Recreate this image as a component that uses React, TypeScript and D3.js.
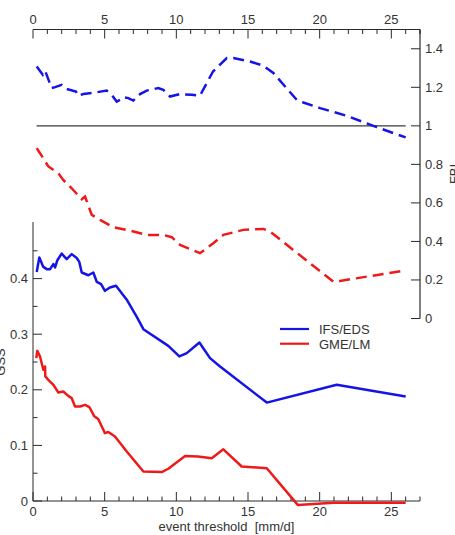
import React from "react";
import * as d3 from "d3";

// Event thresholds (mm/d) and scores for each model chain
const ifsFbiT = [0.26, 0.68, 0.84, 1.3, 1.54, 2.0, 2.35, 3.0, 3.16, 3.51, 4.1, 5.14, 5.49, 5.84, 6.07, 6.3, 6.65, 7.0, 7.47, 7.93, 8.74, 9.09, 9.56, 10.26, 11.07, 11.65, 12.56, 13.52, 13.98, 15.14, 16.07, 16.77, 18.4, 18.86, 20.03, 21.89, 23.98, 26.0];
const ifsFbiV = [1.308, 1.265, 1.287, 1.196, 1.201, 1.213, 1.191, 1.178, 1.156, 1.165, 1.17, 1.183, 1.161, 1.126, 1.135, 1.149, 1.144, 1.131, 1.165, 1.183, 1.196, 1.187, 1.152, 1.165, 1.161, 1.157, 1.282, 1.352, 1.352, 1.334, 1.312, 1.274, 1.135, 1.121, 1.092, 1.052, 0.993, 0.94];

const gmeFbiT = [0.26, 0.49, 1.07, 1.77, 2.11, 2.7, 3.4, 3.63, 4.1, 4.68, 5.6, 6.77, 7.93, 9.09, 9.68, 10.26, 11.65, 12.58, 13.28, 14.68, 16.07, 16.54, 20.96, 21.42, 26.0];
const gmeFbiV = [0.884, 0.858, 0.789, 0.754, 0.719, 0.676, 0.619, 0.633, 0.538, 0.512, 0.474, 0.456, 0.434, 0.434, 0.422, 0.382, 0.339, 0.391, 0.434, 0.46, 0.465, 0.451, 0.191, 0.195, 0.25];

const ifsGssT = [0.26, 0.44, 0.72, 0.96, 1.19, 1.42, 1.54, 1.7, 2.0, 2.35, 2.7, 3.05, 3.23, 3.4, 3.86, 4.21, 4.45, 4.75, 5.02, 5.37, 5.79, 6.54, 7.24, 7.7, 9.44, 10.21, 10.73, 11.61, 12.35, 13.05, 16.31, 21.19, 26.0];
const ifsGssV = [0.412, 0.438, 0.421, 0.417, 0.417, 0.426, 0.42, 0.433, 0.445, 0.435, 0.444, 0.437, 0.43, 0.411, 0.406, 0.411, 0.394, 0.39, 0.378, 0.384, 0.387, 0.362, 0.331, 0.309, 0.279, 0.26, 0.266, 0.285, 0.257, 0.242, 0.177, 0.209, 0.188];

const gmeGssT = [0.23, 0.3, 0.49, 0.72, 0.84, 0.86, 1.07, 1.42, 1.77, 2.11, 2.46, 2.7, 2.93, 3.28, 3.63, 3.93, 4.26, 4.56, 5.02, 5.25, 5.72, 6.54, 7.7, 8.98, 9.44, 10.61, 11.51, 12.47, 13.28, 14.56, 16.31, 18.47, 20.96, 26.0];
const gmeGssV = [0.257, 0.27, 0.26, 0.236, 0.242, 0.224, 0.218, 0.209, 0.195, 0.197, 0.189, 0.185, 0.17, 0.17, 0.173, 0.169, 0.153, 0.147, 0.122, 0.124, 0.116, 0.089, 0.053, 0.052, 0.058, 0.081, 0.08, 0.077, 0.093, 0.062, 0.059, -0.007, -0.003, -0.003];

const xMajorTicks = [0, 5, 10, 15, 20, 25];
const xMinorTicks = d3.range(0, 28);
const fbiTicks = [0, 0.2, 0.4, 0.6, 0.8, 1, 1.2, 1.4];
const gssMajorTicks = [0, 0.1, 0.2, 0.3, 0.4];
const gssMinorTicks = [0.05, 0.15, 0.25, 0.35, 0.45];

const seriesNames = ["IFS/EDS", "GME/LM"];
const seriesColors = ["#1414e6", "#ee1a1a"];

const W = 455;
const H = 535;
const FONT = "'Liberation Sans', Arial, sans-serif";
const AXIS = "#2a2a2a";
const TEXT = "#333";

export default function App() {
  const x = d3.scaleLinear().domain([0, 27]).range([33, 420]);
  const yF = d3.scaleLinear().domain([0, 1.5]).range([318.5, 29.5]);
  const yG = d3.scaleLinear().domain([0, 0.5]).range([501, 223]);

  const lineF = d3.line<[number, number]>().x((d) => x(d[0])).y((d) => yF(d[1]));
  const lineG = d3.line<[number, number]>().x((d) => x(d[0])).y((d) => yG(d[1]));
  const zip = (t: number[], v: number[]) => t.map((d, i) => [d, v[i]] as [number, number]);

  const topY = yF(1.5);
  const botY = yG(0);
  const leftX = x(0);
  const rightX = x(27);

  const fmt = (v: number) => (v === 0 ? "0" : v === 1 ? "1" : String(v));

  return (
    <div style={{ position: "fixed", left: 0, top: 0, width: W, height: H, background: "#fff" }}>
      <svg width={W} height={H} style={{ display: "block", overflow: "hidden" }} fontFamily={FONT}>
        {/* top axis (threshold) */}
        <line x1={leftX} x2={rightX} y1={topY} y2={topY} stroke={AXIS} strokeWidth={1} />
        {xMinorTicks.map((t) => (
          <line key={"tm" + t} x1={x(t)} x2={x(t)} y1={topY} y2={topY + (t % 5 === 0 ? 9 : 4.5)} stroke={AXIS} strokeWidth={1} />
        ))}
        {xMajorTicks.map((t) => (
          <text key={"tl" + t} x={x(t)} y={topY - 6} textAnchor="middle" fontSize={13} fill={TEXT}>
            {t}
          </text>
        ))}

        {/* right axis (FBI) */}
        <line x1={rightX} x2={rightX} y1={topY} y2={yF(0)} stroke="#000" strokeWidth={1} />
        {fbiTicks.map((v) => (
          <g key={"f" + v}>
            <line x1={rightX - 9} x2={rightX} y1={yF(v)} y2={yF(v)} stroke={AXIS} strokeWidth={1} />
            <text x={rightX + 5} y={yF(v) + 4.5} fontSize={13} fill={TEXT}>
              {fmt(v)}
            </text>
          </g>
        ))}
        <text transform={`translate(459,${(yF(0) + topY) / 2}) rotate(-90)`} textAnchor="middle" fontSize={13} fill={TEXT}>
          FBI
        </text>

        {/* reference line FBI = 1 */}
        <line x1={x(0.25)} x2={x(26)} y1={yF(1)} y2={yF(1)} stroke="#3a3a3a" strokeWidth={1.3} />

        {/* FBI curves, dashed */}
        <path d={lineF(zip(ifsFbiT, ifsFbiV)) ?? ""} fill="none" stroke={seriesColors[0]} strokeWidth={2.5} strokeDasharray="11,6" />
        <path d={lineF(zip(gmeFbiT, gmeFbiV)) ?? ""} fill="none" stroke={seriesColors[1]} strokeWidth={2.5} strokeDasharray="11,6" />

        {/* left axis (GSS) */}
        <line x1={leftX} x2={leftX} y1={yG(0.5) - 1} y2={botY} stroke={AXIS} strokeWidth={1} />
        {gssMajorTicks.map((v) => (
          <g key={"g" + v}>
            <line x1={leftX} x2={leftX + 9} y1={yG(v)} y2={yG(v)} stroke={AXIS} strokeWidth={1} />
            <text x={leftX - 5} y={yG(v) + 4.5} textAnchor="end" fontSize={13} fill={TEXT}>
              {fmt(v)}
            </text>
          </g>
        ))}
        {gssMinorTicks.map((v) => (
          <line key={"gm" + v} x1={leftX} x2={leftX + 4.5} y1={yG(v)} y2={yG(v)} stroke={AXIS} strokeWidth={1} />
        ))}
        <text transform={`translate(5,${(yG(0) + yG(0.5)) / 2}) rotate(-90)`} textAnchor="middle" fontSize={13} fill={TEXT}>
          GSS
        </text>

        {/* bottom axis */}
        <line x1={leftX} x2={rightX} y1={botY} y2={botY} stroke={AXIS} strokeWidth={1} />
        {xMinorTicks.map((t) => (
          <line key={"bm" + t} x1={x(t)} x2={x(t)} y1={botY} y2={botY - (t % 5 === 0 ? 9 : 4.5)} stroke={AXIS} strokeWidth={1} />
        ))}
        {xMajorTicks.map((t) => (
          <text key={"bl" + t} x={x(t)} y={botY + 15} textAnchor="middle" fontSize={13} fill={TEXT}>
            {t}
          </text>
        ))}
        <text x={(leftX + rightX) / 2} y={531} textAnchor="middle" fontSize={13} fill={TEXT} style={{ whiteSpace: "pre" }}>
          {"event threshold  [mm/d]"}
        </text>

        {/* GSS curves, solid */}
        <path d={lineG(zip(ifsGssT, ifsGssV)) ?? ""} fill="none" stroke={seriesColors[0]} strokeWidth={2.5} strokeLinejoin="round" />
        <path d={lineG(zip(gmeGssT, gmeGssV)) ?? ""} fill="none" stroke={seriesColors[1]} strokeWidth={2.5} strokeLinejoin="round" />

        {/* legend */}
        {seriesNames.map((name, i) => (
          <g key={name} transform={`translate(280,${329 + i * 14.7})`}>
            <line x1={0} x2={29} y1={0} y2={0} stroke={seriesColors[i]} strokeWidth={2.2} />
            <text x={39} y={5} fontSize={13} fill={TEXT}>
              {name}
            </text>
          </g>
        ))}
      </svg>
    </div>
  );
}
